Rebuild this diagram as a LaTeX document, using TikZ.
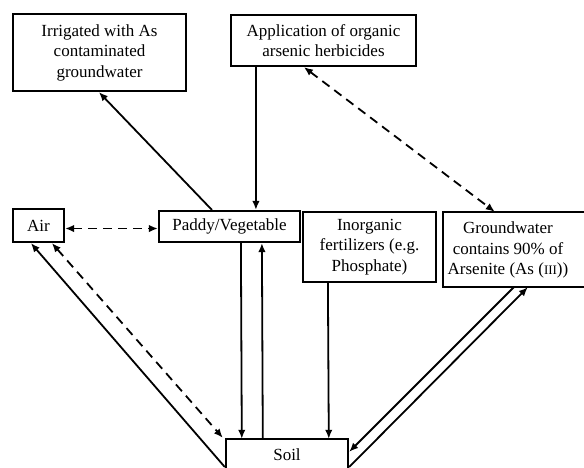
\documentclass[tikz,border=0pt]{standalone}
\usepackage{fontspec}
\setmainfont{Liberation Serif}
\usetikzlibrary{arrows.meta,calc}
\begin{document}
\begin{tikzpicture}[x=1pt,y=-1pt,
  box/.style={draw,line width=2.2pt,inner sep=0pt,align=center,
    font=\fontsize{17pt}{20.5pt}\selectfont},
  txt/.style={inner sep=0pt,align=center,font=\fontsize{17pt}{20.5pt}\selectfont},
  boxline/.style={line width=2.2pt},
  arr/.style={line width=1.8pt,-{Latex[length=9pt,width=7.5pt]}},
  darr/.style={line width=1.8pt,{Latex[length=9pt,width=7.5pt]}-{Latex[length=9pt,width=7.5pt]},dash pattern=on 9pt off 6pt}]
\useasboundingbox (0,0) rectangle (584,467);
\node[box,minimum width=173pt,minimum height=77pt] (irr) at (99.5,52.5)
  {Irrigated with As\\contaminated\\groundwater};
\node[box,minimum width=185pt,minimum height=51pt] (app) at (323.5,40.5)
  {Application of organic\\arsenic herbicides};
\node[box,minimum width=51pt,minimum height=33pt] (air) at (38.5,225.5) {Air};
\node[box,minimum width=141pt,minimum height=31pt] (pad) at (229.5,226.5) {Paddy/Vegetable};
\node[box,minimum width=133pt,minimum height=70pt] (inorg) at (369.5,247)
  {Inorganic\\fertilizers (e.g.\\Phosphate)};
\node[inner sep=0pt,minimum width=180pt,minimum height=75pt] (gw) at (533,249.5) {};
\draw[boxline] (gw.north east) -| (gw.south west) -- (gw.south east);
\node[txt] (gwt) at (508,250)
  {Groundwater\\contains 90\% of\\Arsenite (As ({\fontsize{13pt}{13pt}\selectfont III}))};
\node[inner sep=0pt,minimum width=122pt,minimum height=56pt] (soil) at (287,467) {};
\draw[boxline] (soil.south west) |- (soil.north east) -- (soil.south east);
\node[txt] (soilt) at (287,455) {Soil};

\draw[arr] ([xshift=54pt]pad.north west) -- ([xshift=87pt]irr.south west);
\draw[arr] ([xshift=26pt]app.south west) -- ([xshift=98pt]pad.north west);
\draw[darr] ([xshift=74pt]app.south west) -- ([xshift=52pt]gw.north west);
\draw[darr] ([yshift=-3pt]air.east) -- ([yshift=-3pt]air.east -| pad.west);
\draw[arr] ([xshift=83pt]pad.south west) -- ([xshift=16pt]soil.north west);
\draw[arr] ([xshift=37pt]soil.north west) -- ([xshift=104pt]pad.south west);
\draw[arr] ([xshift=26pt]inorg.south west) -- ([xshift=103pt]soil.north west);
\draw[arr] ([xshift=-1pt]soil.west) -- ([xshift=19pt]air.south west);
\draw[darr] ([xshift=40pt]air.south west) -- ([xshift=-3pt,yshift=1pt]soil.north west);
\draw[arr] ([xshift=71pt]gw.south west) -- ([xshift=1pt,yshift=-13pt]soil.north east);
\draw[arr] ([xshift=1pt]soil.east) -- ([xshift=85pt]gw.south west);
\end{tikzpicture}
\end{document}
